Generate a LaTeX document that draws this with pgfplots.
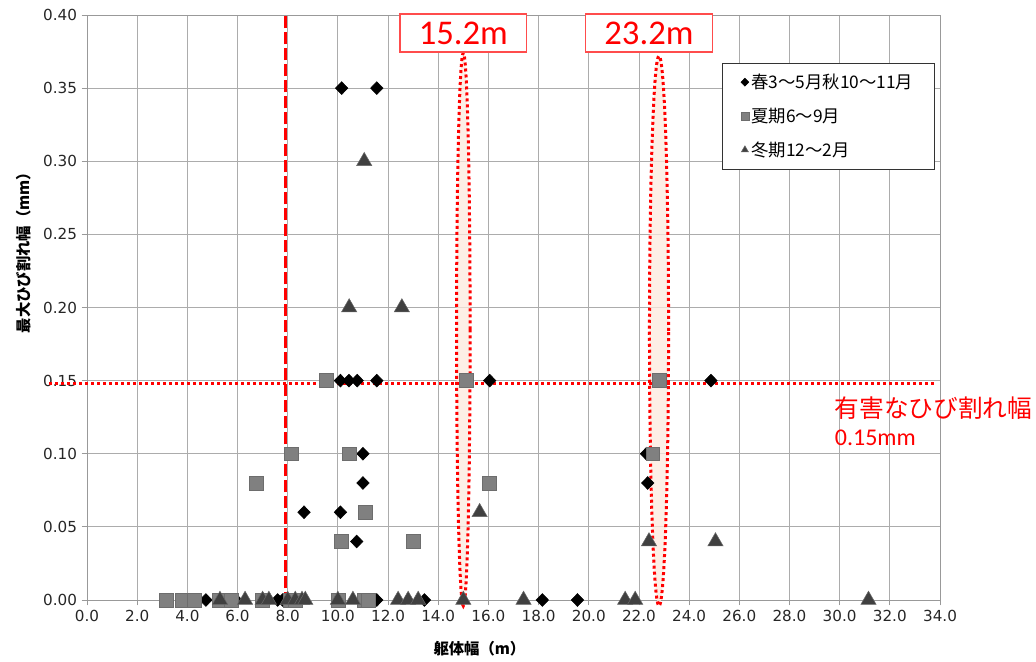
\documentclass[border=0pt]{standalone}
\usepackage{fontspec}
\setmainfont{Carlito}
\newfontfamily\cjk{Noto Sans CJK JP}
\newfontfamily\tickfont{DejaVu Sans}
\usepackage{pgfplots}
\pgfplotsset{compat=1.18}
\definecolor{sqgray}{HTML}{808080}
\definecolor{trigray}{HTML}{404040}
\definecolor{peach}{HTML}{FCE9DE}
\begin{document}
\begin{tikzpicture}
\begin{axis}[
  width=639.75pt, height=438.75pt, scale only axis,
  xmin=0, xmax=34, ymin=0, ymax=0.4,
  xtick={0,2,...,34},
  ytick={0,0.05,0.1,0.15,0.2,0.25,0.3,0.35,0.4},
  xtick pos=bottom, ytick pos=left,
  tick align=outside, major tick length=4pt,
  grid=major,
  major grid style={draw=gray!65, line width=0.6pt},
  axis line style={draw=gray!80, line width=0.6pt},
  tick style={draw=gray!80, line width=0.6pt},
  /pgf/number format/assume math mode=true,
  xticklabel style={/pgf/number format/.cd, fixed, fixed zerofill, precision=1},
  yticklabel style={/pgf/number format/.cd, fixed, fixed zerofill, precision=2},
  tick label style={font=\tickfont\fontsize{11.4}{12}\selectfont, color=black!85},
  xlabel={\cjk\bfseries 躯体幅（m）},
  ylabel={\cjk\bfseries 最大ひび割れ幅（mm）},
  label style={font=\fontsize{11.5}{13}\selectfont},
  xlabel style={at={(axis description cs:0.46,-0.084)}, anchor=center},
  ylabel style={at={(axis description cs:-0.074,0.60)}, anchor=center},
  clip=false,
  legend style={at={(axis description cs:0.994,0.918)}, anchor=north east,
    draw=black!80, fill=white, font=\cjk\fontsize{13}{14}\selectfont,
    row sep=9pt, inner xsep=14pt, inner ysep=6pt,
    /tikz/every even column/.append style={column sep=2pt}},
  legend cell align=left,
  legend image code/.code={\draw[mark size=3pt] plot coordinates {(0.15cm,0cm)};},
]
% spring/autumn
\addplot[only marks, mark=diamond*, mark size=4.8pt, mark options={xscale=1.3, fill=black, draw=black}] coordinates {
(10.15,0.35)(11.55,0.35)
(10.1,0.15)(10.44,0.15)(10.77,0.15)(11.55,0.15)(16.05,0.15)(24.87,0.15)
(11.0,0.10)(22.3,0.10)
(11.0,0.08)(22.35,0.08)
(8.65,0.06)(10.1,0.06)
(10.75,0.04)
(4.74,0)(5.94,0)(7.6,0)(7.8,0)(11.55,0)(13.45,0)(18.15,0)(19.55,0)
};
\addlegendentry{春3～5月秋10～11月}
% summer
\addplot[only marks, mark=square*, mark size=5.2pt, mark options={fill=sqgray, draw=sqgray!85!black}] coordinates {
(9.55,0.15)(15.1,0.15)(22.8,0.15)
(8.15,0.10)(10.45,0.10)(22.55,0.10)
(6.75,0.08)(16.05,0.08)
(11.1,0.06)
(10.15,0.04)(13.0,0.04)
(3.15,0)(3.8,0)(4.26,0)(5.27,0)(5.75,0)(7.0,0)(8.1,0)(8.3,0)(10.0,0)(11.05,0)(11.2,0)
};
\addlegendentry{夏期6～9月}
% winter
\addplot[only marks, mark=triangle*, mark size=6.6pt, mark options={fill=trigray, draw=trigray!80!white}] coordinates {
(11.05,0.30)(10.45,0.20)(12.55,0.20)(15.65,0.06)(22.4,0.04)(25.05,0.04)
(5.3,0)(6.3,0)(7.0,0)(7.25,0)(8.0,0)(8.3,0)(8.57,0)(8.7,0)(10.0,0)(10.6,0)
(12.4,0)(12.8,0)(13.2,0)(15.0,0)(17.4,0)(21.45,0)(21.85,0)(31.15,0)
};
\addlegendentry{冬期12～2月}
% ellipses
\fill[peach, opacity=0.75] (axis cs:15.0,0.185) ellipse [x radius=0.27, y radius=0.189];
\draw[red, line width=2.25pt, dash pattern=on 2.25pt off 2.25pt] (axis cs:15.0,0.185) ellipse [x radius=0.27, y radius=0.189];
\fill[peach, opacity=0.75] (axis cs:22.8,0.184) ellipse [x radius=0.38, y radius=0.188];
\draw[red, line width=2.25pt, dash pattern=on 2.25pt off 2.25pt] (axis cs:22.8,0.184) ellipse [x radius=0.38, y radius=0.188];
% reference lines
\draw[red, line width=2.25pt, dash pattern=on 9pt off 3pt] (axis cs:7.9,-0.003) -- (axis cs:7.9,0.4);
\draw[red, line width=2.25pt, dash pattern=on 2.25pt off 2.25pt] (axis cs:-1.5,0.148) -- (axis cs:33.8,0.148);
% boxes
\node[draw=red!70, line width=1pt, fill=white, text=red, font=\fontsize{26}{26}\selectfont, minimum width=95pt, minimum height=28.5pt, inner sep=0pt] at (axis cs:15.0,0.3877) {15.2m};
\node[draw=red!70, line width=1pt, fill=white, text=red, font=\fontsize{26}{26}\selectfont, minimum width=95pt, minimum height=28.5pt, inner sep=0pt] at (axis cs:22.4,0.3877) {23.2m};
\node[anchor=west, text=red, font=\cjk\fontsize{18.5}{19}\selectfont, inner sep=0pt] at (axis cs:29.8,0.131) {有害なひび割れ幅};
\node[anchor=west, text=red, font=\fontsize{18}{18}\selectfont, inner sep=0pt] at (axis cs:29.8,0.111) {0.15mm};
\coordinate (bl) at (rel axis cs:0,0);
\coordinate (tr) at (rel axis cs:1,1);
\end{axis}
\pgfresetboundingbox
\path[use as bounding box] ([xshift=-65.25pt,yshift=-46.5pt]bl) rectangle ([xshift=72pt,yshift=11.25pt]tr);
\end{tikzpicture}
\end{document}
